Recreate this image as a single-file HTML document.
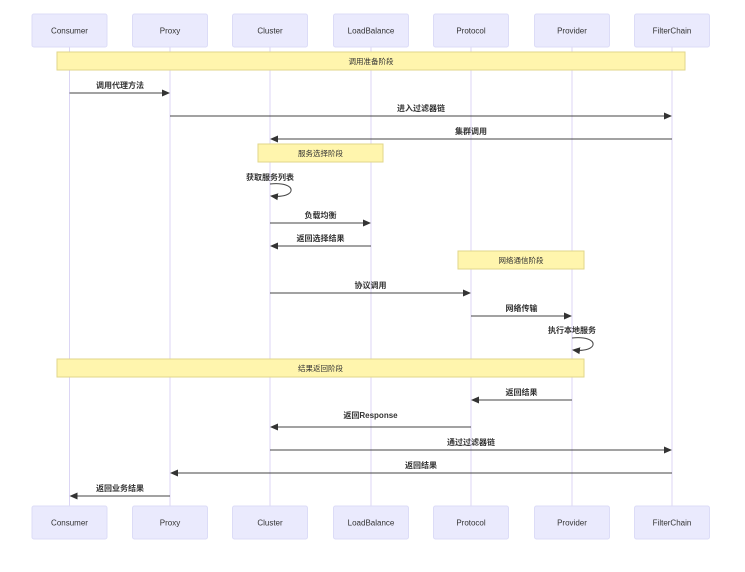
<!DOCTYPE html>
<html><head><meta charset="utf-8"><style>
html,body{margin:0;padding:0;background:#fff;}
svg{display:block;}
text{font-family:"Liberation Sans","Noto Sans CJK SC",sans-serif;}
.actor{fill:#eaeafd;stroke:#dcdcf7;stroke-width:1;}
.an{font-size:8px;fill:#333;text-anchor:middle;}
.life{stroke:#dcd6f5;stroke-width:1;}
.note{fill:#fff5ad;stroke:#e0d68a;stroke-width:1;}
.nt{font-size:7.5px;fill:#333;text-anchor:middle;}
.msg{stroke:#444;stroke-width:1;fill:none;}
.ml{font-size:8px;font-weight:bold;fill:#333;text-anchor:middle;}
</style></head><body>
<svg width="745" height="572" viewBox="0 0 745 572" xmlns="http://www.w3.org/2000/svg">
<defs>
<marker id="ar" markerWidth="8" markerHeight="8" refX="7" refY="4" orient="auto" markerUnits="userSpaceOnUse">
<path d="M0,0.5 L8,4 L0,7.5 z" fill="#333"/></marker>
</defs>
<g>
<line class="life" x1="69.5" y1="47" x2="69.5" y2="506"/>
<line class="life" x1="170" y1="47" x2="170" y2="506"/>
<line class="life" x1="270" y1="47" x2="270" y2="506"/>
<line class="life" x1="371" y1="47" x2="371" y2="506"/>
<line class="life" x1="471" y1="47" x2="471" y2="506"/>
<line class="life" x1="572" y1="47" x2="572" y2="506"/>
<line class="life" x1="672" y1="47" x2="672" y2="506"/>
</g>
<g>
<rect class="actor" x="32" y="14" width="75" height="33" rx="2"/><text class="an" x="69.5" y="33.5">Consumer</text>
<rect class="actor" x="132.5" y="14" width="75" height="33" rx="2"/><text class="an" x="170" y="33.5">Proxy</text>
<rect class="actor" x="232.5" y="14" width="75" height="33" rx="2"/><text class="an" x="270" y="33.5">Cluster</text>
<rect class="actor" x="333.5" y="14" width="75" height="33" rx="2"/><text class="an" x="371" y="33.5">LoadBalance</text>
<rect class="actor" x="433.5" y="14" width="75" height="33" rx="2"/><text class="an" x="471" y="33.5">Protocol</text>
<rect class="actor" x="534.5" y="14" width="75" height="33" rx="2"/><text class="an" x="572" y="33.5">Provider</text>
<rect class="actor" x="634.5" y="14" width="75" height="33" rx="2"/><text class="an" x="672" y="33.5">FilterChain</text>

<rect class="actor" x="32" y="506" width="75" height="33" rx="2"/><text class="an" x="69.5" y="525.5">Consumer</text>
<rect class="actor" x="132.5" y="506" width="75" height="33" rx="2"/><text class="an" x="170" y="525.5">Proxy</text>
<rect class="actor" x="232.5" y="506" width="75" height="33" rx="2"/><text class="an" x="270" y="525.5">Cluster</text>
<rect class="actor" x="333.5" y="506" width="75" height="33" rx="2"/><text class="an" x="371" y="525.5">LoadBalance</text>
<rect class="actor" x="433.5" y="506" width="75" height="33" rx="2"/><text class="an" x="471" y="525.5">Protocol</text>
<rect class="actor" x="534.5" y="506" width="75" height="33" rx="2"/><text class="an" x="572" y="525.5">Provider</text>
<rect class="actor" x="634.5" y="506" width="75" height="33" rx="2"/><text class="an" x="672" y="525.5">FilterChain</text>
</g>
<!-- notes -->
<rect class="note" x="57" y="52" width="628" height="18"/><text class="nt" x="371" y="64">调用准备阶段</text>
<rect class="note" x="258" y="144" width="125" height="18"/><text class="nt" x="320.5" y="156">服务选择阶段</text>
<rect class="note" x="458" y="251" width="126" height="18"/><text class="nt" x="521" y="263">网络通信阶段</text>
<rect class="note" x="57" y="359" width="527" height="18"/><text class="nt" x="320.5" y="371">结果返回阶段</text>
<!-- messages -->
<text class="ml" x="120" y="88">调用代理方法</text>
<line class="msg" x1="69.5" y1="93" x2="169" y2="93" marker-end="url(#ar)"/>
<text class="ml" x="421" y="111">进入过滤器链</text>
<line class="msg" x1="170" y1="116" x2="671" y2="116" marker-end="url(#ar)"/>
<text class="ml" x="471" y="134">集群调用</text>
<line class="msg" x1="672" y1="139" x2="271" y2="139" marker-end="url(#ar)"/>
<text class="ml" x="270" y="180">获取服务列表</text>
<path class="msg" d="M270,184 C298,181 298,199 271,196" marker-end="url(#ar)"/>
<text class="ml" x="320.5" y="218">负载均衡</text>
<line class="msg" x1="270" y1="223" x2="370" y2="223" marker-end="url(#ar)"/>
<text class="ml" x="320.5" y="241">返回选择结果</text>
<line class="msg" x1="371" y1="246" x2="271" y2="246" marker-end="url(#ar)"/>
<text class="ml" x="370.5" y="288">协议调用</text>
<line class="msg" x1="270" y1="293" x2="470" y2="293" marker-end="url(#ar)"/>
<text class="ml" x="521.5" y="311">网络传输</text>
<line class="msg" x1="471" y1="316" x2="571" y2="316" marker-end="url(#ar)"/>
<text class="ml" x="572" y="333">执行本地服务</text>
<path class="msg" d="M572,338 C600,335 600,353 573,350" marker-end="url(#ar)"/>
<text class="ml" x="521.5" y="395">返回结果</text>
<line class="msg" x1="572" y1="400" x2="472" y2="400" marker-end="url(#ar)"/>
<text class="ml" x="370.5" y="418">返回Response</text>
<line class="msg" x1="471" y1="427" x2="271" y2="427" marker-end="url(#ar)"/>
<text class="ml" x="471" y="445">通过过滤器链</text>
<line class="msg" x1="270" y1="450" x2="671" y2="450" marker-end="url(#ar)"/>
<text class="ml" x="421" y="468">返回结果</text>
<line class="msg" x1="672" y1="473" x2="171" y2="473" marker-end="url(#ar)"/>
<text class="ml" x="120" y="491">返回业务结果</text>
<line class="msg" x1="170" y1="496" x2="70.5" y2="496" marker-end="url(#ar)"/>
</svg>
</body></html>
